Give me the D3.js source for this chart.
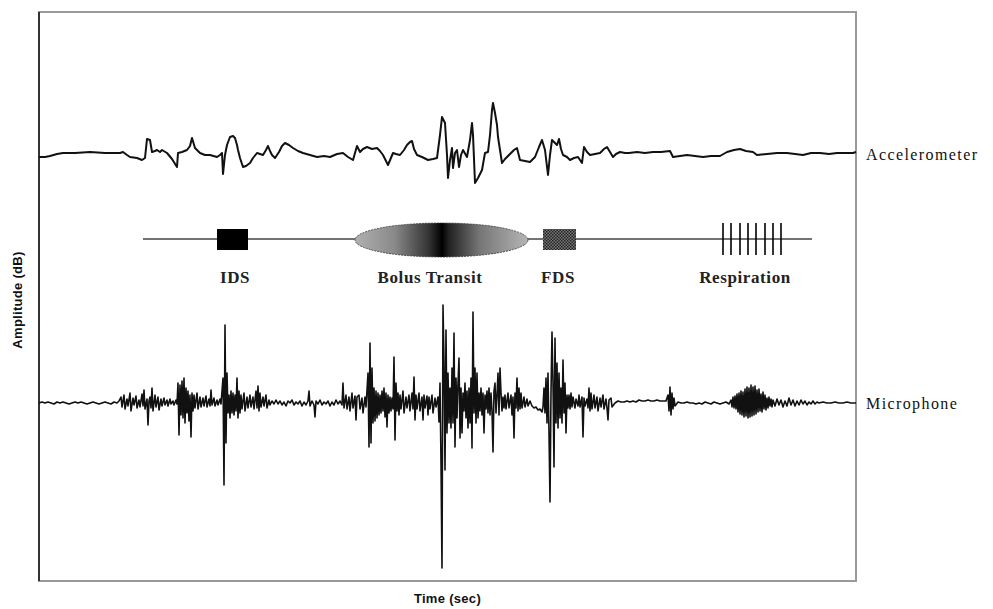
<!DOCTYPE html>
<html>
<head>
<meta charset="utf-8">
<script src="https://cdnjs.cloudflare.com/ajax/libs/d3/7.8.5/d3.min.js"></script>
<style>
  body { margin: 0; background: #fff; }
  #chart { width: 993px; height: 609px; }
</style>
</head>
<body>
<div id="chart"></div>
<script>
/*
#################################################
SECTION 1: DATA
time in ms from start, amplitude in arbitrary units
#################################################
*/
var accelSignal = [
  [0,-2],[6,-2],[11,-1],[18,1],[24,2],[36,2],[51,3],[66,2],[81,2],[84,3],[88,0],[91,-2],[98,-3],
  [103,-5],[106,-3],[108,16],[111,15],[113,3],[116,4],[118,5],[121,3],[123,5],[128,2],[133,-4],
  [138,-12],[139,2],[143,3],[148,5],[151,9],[153,17],[156,7],[158,5],[161,2],[166,0],[171,0],
  [178,-2],[181,0],[183,2],[184,-19],[186,0],[188,10],[191,18],[194,19],[196,17],[198,10],
  [199,5],[201,-3],[204,-12],[207,-11],[211,-8],[214,-3],[218,2],[221,1],[224,0],[227,5],[229,9],
  [231,4],[233,0],[236,-3],[240,3],[243,9],[246,12],[250,10],[254,7],[259,4],[264,2],[271,0],
  [278,-2],[285,-1],[291,-2],[298,1],[304,2],[309,-2],[314,-5],[318,9],[321,3],[324,6],[328,8],
  [333,6],[338,7],[341,4],[344,0],[349,-10],[354,2],[357,1],[361,0],[365,5],[368,10],[371,13],
  [373,14],[375,6],[378,0],[383,-2],[389,-5],[394,-4],[398,-3],[401,20],[403,38],[405,34],
  [406,32],[408,0],[409,-23],[411,-5],[413,7],[414,-13],[416,2],[418,5],[420,-12],[422,0],
  [424,5],[428,-2],[431,15],[433,32],[434,20],[436,-28],[439,-23],[443,-15],[446,2],[449,3],
  [451,20],[453,45],[454,52],[456,42],[458,30],[459,18],[461,5],[463,-8],[466,-4],[468,-2],
  [472,2],[475,5],[478,7],[481,-5],[486,-6],[491,-7],[496,-2],[500,8],[503,15],[506,5],[509,-20],
  [511,0],[513,15],[516,12],[518,10],[520,16],[522,6],[524,0],[528,-2],[531,-5],[535,-3],
  [539,-2],[543,-8],[545,8],[548,3],[551,0],[556,1],[561,2],[565,6],[568,8],[571,3],[574,-2],
  [577,1],[581,3],[586,2],[590,2],[598,3],[606,2],[614,3],[622,3],[631,4],[634,-2],[641,-1],
  [648,0],[656,-1],[664,-2],[672,-1],[681,-1],[688,3],[695,5],[701,6],[707,4],[714,3],[718,0],
  [728,1],[738,2],[748,2],[756,1],[764,0],[772,2],[781,2],[790,1],[798,2],[806,2],[814,2],[817,3]
];

var micSignal = [
  [0,0],[3,1],[6,0],[9,1],[12,0],[15,-1],[18,1],[21,0],[24,1],[27,0],[30,-1],[33,0],[36,1],
  [39,0],[42,1],[45,0],[48,-1],[51,0],[54,1],[57,0],[60,-1],[63,0],[66,1],[69,0],[72,-1],[75,1],
  [78,0],[80,2],
  [82,6],[83,-4],[85,8],[86,-6],[88,4],[89,-3],[91,10],[92,-8],[94,5],[95,-2],[97,7],[98,-5],
  [100,3],[101,-4],[103,9],[104,-3],[105,13],[106,-6],[108,4],[109,-22],[110,2],[111,6],[112,-5],
  [113,15],[114,-8],[116,8],[117,-4],[119,6],[120,-7],[122,4],[123,-3],[125,5],[126,-2],[128,3],
  [129,-3],[131,4],[132,-1],[134,2],[135,-2],[137,3],[138,-1],
  [139,20],[140,-32],[141,18],[142,-12],[143,22],[144,-15],[145,25],[146,-20],[147,15],[148,-10],
  [149,12],[150,-18],[151,8],[152,-34],[153,10],[154,-8],
  [155,8],[156,-5],[158,10],[159,-6],[161,6],[162,-4],[164,5],[165,-3],[167,7],[168,-4],[170,4],
  [171,-3],[172,13],[173,-2],[175,5],[176,-3],[178,3],[179,-2],[181,4],[182,-1],
  [184,25],[185,-82],[186,78],[187,-40],[188,30],[189,-10],
  [190,8],[191,-15],[192,12],[193,-10],[194,10],[195,-12],[196,8],[197,-8],[198,25],[199,-15],
  [200,12],[201,-10],[202,8],[203,-6],[205,10],[206,-8],[208,6],[209,-5],[211,8],[212,-4],[214,6],
  [215,-6],[217,12],[218,-5],[219,17],[220,-8],[221,10],[222,-4],[224,6],[225,-3],[227,8],[228,-5],
  [230,3],[231,-2],
  [233,2],[235,-1],[237,3],[239,-1],[241,2],[243,-2],[245,1],[247,-3],[249,2],[251,0],[253,3],
  [255,-2],[257,1],[259,-1],[261,2],[263,-3],[265,1],[267,-2],[269,2],[270,12],[271,-3],[273,2],
  [275,-2],[276,-14],[277,2],[279,-1],[281,3],[283,-2],[285,1],[287,-1],[289,2],[291,-3],[293,1],
  [295,-2],[297,3],[299,-1],[301,2],[303,-2],
  [304,20],[305,-5],[307,8],[308,-6],[310,6],[311,-8],[313,10],[314,-5],[316,7],[317,-17],[318,6],
  [320,8],[321,-6],[323,5],[324,-10],[326,6],[327,-4],
  [329,30],[330,-44],[331,60],[332,-40],[333,35],[334,-20],
  [335,15],[336,-18],[337,12],[338,-15],[339,10],[340,-12],[341,8],[342,-10],[343,12],[344,-8],
  [345,15],[346,-14],[347,10],[348,-24],[349,8],[350,-10],[351,6],[352,-8],[353,5],[354,-6],
  [355,46],[356,-37],[357,20],[358,-8],
  [359,10],[360,-12],[361,8],[362,-6],[364,12],[365,-10],[367,6],[368,-5],[370,8],[371,-8],
  [373,10],[374,-6],[375,26],[376,-17],[377,8],[378,-6],[380,10],[381,-8],[383,6],[384,-17],
  [385,8],[386,-5],[388,7],[389,-12],[390,6],[391,-6],[393,8],[394,-10],[396,5],[397,-4],[399,6],
  [400,-19],
  [401,20],[402,-60],[403,-165],[404,98],[405,40],[406,-67],[407,73],[408,-30],[409,30],[410,-20],
  [411,15],[412,-25],[413,35],[414,-20],[415,70],[416,-44],[417,25],[418,-15],[419,20],[420,45],
  [421,-35],[422,15],[423,-30],[424,10],
  [425,-8],[426,20],[427,-15],[428,12],[429,-25],[430,15],[431,-20],[432,25],[433,-45],[434,91],
  [435,-10],[436,35],[437,-20],[438,30],[439,-15],[440,10],[441,-8],[442,15],[443,-12],[444,10],
  [445,-30],[446,8],[447,-6],
  [448,12],[449,-10],[450,15],[451,-12],[452,10],[453,-8],[454,-49],[455,12],[456,20],[457,-10],
  [458,8],[459,30],[460,-12],[461,35],[462,10],[463,-8],[464,6],[465,-5],[466,8],[467,-6],[469,10],
  [470,-5],[472,8],[473,-12],[474,6],[475,-35],[476,10],[477,-5],[478,25],[479,-8],[480,15],
  [481,-6],[482,10],[483,-5],[485,6],[486,-4],[488,4],[489,-3],[491,2],
  [493,-3],[495,-5],[497,-4],[499,-7],[501,-6],[503,-9],[504,-4],
  [505,15],[506,-10],[507,25],[508,-20],[509,30],[510,-30],[511,-99],[512,10],[513,71],[514,20],
  [515,-64],[516,65],[517,-20],[518,40],[519,-25],[520,30],[521,-15],[522,15],[523,-20],[524,43],
  [525,-10],[526,20],[527,-30],[528,8],
  [529,-5],[530,8],[531,-6],[532,10],[533,-4],[534,6],[536,-5],[537,4],[539,-3],[540,8],[541,-4],
  [543,6],[544,-34],[545,5],[546,-3],[548,4],
  [549,-5],[550,15],[551,-8],[552,10],[553,-6],[555,8],[556,-5],[558,6],[559,-8],[561,5],[562,-4],
  [564,8],[565,-6],[567,4],[568,-5],[569,-17],[570,3],[572,5],[573,-4],
  [576,0],[579,2],[582,1],[585,1],[588,2],[591,1],[594,2],[597,1],[600,3],[603,2],[606,2],
  [609,3],[612,2],[615,2],[618,3],[621,2],[624,2],[627,2],
  [629,8],[630,-8],[631,16],[632,-12],[633,10],[634,-6],[635,5],[636,-3],
  [639,1],[642,0],[645,0],[648,1],[651,0],[654,0],[657,-1],[660,0],[663,-1],[666,1],[669,0],
  [672,-1],[675,1],[678,0],[681,-1],[684,0],[687,1],[690,-1],
  [692,3],[693,-4],[694,6],[695,-5],[696,7],[697,-6],[698,9],[699,-9],[700,10],[701,-11],[702,12],
  [703,-12],[704,11],[705,-14],[706,14],[707,-13],[708,16],[709,-15],[710,15],[711,-14],[712,18],
  [713,-13],[714,16],[715,-12],[716,17],[717,-11],[718,13],[719,-9],[720,14],[721,-8],[722,9],
  [723,-9],[724,11],[725,-6],[726,8],[727,-7],[728,5],[729,-5],[730,6],[731,-3],[732,4],[733,-4],
  [734,3],
  [736,-3],[738,4],[740,-2],[742,3],[744,-4],[746,2],[748,-3],[750,5],[752,-2],[754,3],[756,-3],
  [758,2],[760,-2],[762,3],[764,-1],[766,2],[768,-2],[770,1],[772,-1],[774,2],[776,-1],[778,1],
  [780,0],
  [784,1],[788,0],[792,0],[796,1],[800,0],[804,0],[808,1],[812,0],[817,0]
];

// swallowing events on the common time axis
var timelineSpan = [104, 773];
var idsSpan = [178, 209];
var bolusSpan = [316, 489];
var bolusPeak = 403;
var fdsSpan = [504, 537];
var respirationTicks = [684, 692, 701, 709, 717, 726, 734, 742];
var eventLabels = ["IDS", "Bolus Transit", "FDS", "Respiration"];
var eventLabelTimes = [196, 391, 519, 706];
var traceNames = ["Accelerometer", "Microphone"];

/*
#################################################
SECTION 2: DRAWING AREA AND SCALES
#################################################
*/
var width = 993, height = 609;
var frame = {left: 39, top: 12, right: 856, bottom: 581};

var svg = d3.select('#chart').append('svg')
    .attr('width', width)
    .attr('height', height);

var xScale = d3.scaleLinear()
    .domain([0, 817])
    .range([frame.left, frame.right]);
var yAccel = d3.scaleLinear()
    .domain([-50, 50])
    .range([205, 105]);
var yMic = d3.scaleLinear()
    .domain([-170, 170])
    .range([573, 233]);

// frame: grey box, darker left edge
svg.append('rect')
    .attr('x', frame.left).attr('y', frame.top)
    .attr('width', frame.right - frame.left)
    .attr('height', frame.bottom - frame.top)
    .attr('fill', 'none')
    .attr('stroke', '#9a9a9a')
    .attr('stroke-width', 2);
svg.append('line')
    .attr('x1', frame.left).attr('x2', frame.left)
    .attr('y1', frame.top).attr('y2', frame.bottom)
    .attr('stroke', '#333')
    .attr('stroke-width', 2);

/*
#################################################
SECTION 3: SIGNAL TRACES
#################################################
*/
var accelLine = d3.line()
    .x(function(d) {return xScale(d[0]);})
    .y(function(d) {return yAccel(d[1]);});
var micLine = d3.line()
    .x(function(d) {return xScale(d[0]);})
    .y(function(d) {return yMic(d[1]);});

svg.append('path')
    .datum(accelSignal)
    .attr('d', accelLine)
    .attr('fill', 'none')
    .attr('stroke', '#111')
    .attr('stroke-width', 2)
    .attr('stroke-linejoin', 'round');

svg.append('path')
    .datum(micSignal)
    .attr('d', micLine)
    .attr('fill', 'none')
    .attr('stroke', '#111')
    .attr('stroke-width', 1.6)
    .attr('stroke-linejoin', 'round');

/*
#################################################
SECTION 4: EVENT TIMELINE
#################################################
*/
var timelineY = 239;
var defs = svg.append('defs');

var grad = defs.append('linearGradient')
    .attr('id', 'bolusGrad')
    .attr('x1', '0%').attr('x2', '100%')
    .attr('y1', '0%').attr('y2', '0%');
var peakPct = (bolusPeak - bolusSpan[0]) / (bolusSpan[1] - bolusSpan[0]) * 100;
grad.append('stop').attr('offset', '0%').attr('stop-color', '#b0b0b0');
grad.append('stop').attr('offset', (peakPct * 0.45) + '%').attr('stop-color', '#8a8a8a');
grad.append('stop').attr('offset', (peakPct * 0.85) + '%').attr('stop-color', '#333');
grad.append('stop').attr('offset', peakPct + '%').attr('stop-color', '#000');
grad.append('stop').attr('offset', (peakPct + 4) + '%').attr('stop-color', '#222');
grad.append('stop').attr('offset', (peakPct + 22) + '%').attr('stop-color', '#777');
grad.append('stop').attr('offset', '100%').attr('stop-color', '#b5b5b5');

var checks = defs.append('pattern')
    .attr('id', 'checks')
    .attr('width', 3).attr('height', 3)
    .attr('patternUnits', 'userSpaceOnUse');
checks.append('rect').attr('width', 3).attr('height', 3).attr('fill', '#777');
checks.append('rect').attr('width', 1.5).attr('height', 1.5).attr('fill', '#222');
checks.append('rect').attr('x', 1.5).attr('y', 1.5).attr('width', 1.5).attr('height', 1.5).attr('fill', '#222');

svg.append('line')
    .attr('x1', xScale(timelineSpan[0])).attr('x2', xScale(timelineSpan[1]))
    .attr('y1', timelineY).attr('y2', timelineY)
    .attr('stroke', '#444')
    .attr('stroke-width', 1.5);

svg.append('rect')
    .attr('x', xScale(idsSpan[0]))
    .attr('y', timelineY - 10)
    .attr('width', xScale(idsSpan[1]) - xScale(idsSpan[0]))
    .attr('height', 21)
    .attr('fill', '#000');

svg.append('ellipse')
    .attr('cx', (xScale(bolusSpan[0]) + xScale(bolusSpan[1])) / 2)
    .attr('cy', timelineY + 1)
    .attr('rx', (xScale(bolusSpan[1]) - xScale(bolusSpan[0])) / 2)
    .attr('ry', 17)
    .attr('fill', 'url(#bolusGrad)')
    .attr('stroke', '#333')
    .attr('stroke-width', 0.8)
    .attr('stroke-dasharray', '2,1');

svg.append('rect')
    .attr('x', xScale(fdsSpan[0]))
    .attr('y', timelineY - 10)
    .attr('width', xScale(fdsSpan[1]) - xScale(fdsSpan[0]))
    .attr('height', 21)
    .attr('fill', 'url(#checks)');

svg.selectAll('.resp').data(respirationTicks)
  .enter().append('line')
    .attr('class', 'resp')
    .attr('x1', function(d) {return xScale(d);})
    .attr('x2', function(d) {return xScale(d);})
    .attr('y1', timelineY - 16)
    .attr('y2', timelineY + 16)
    .attr('stroke', '#000')
    .attr('stroke-width', 1.6);

svg.selectAll('.evlabel').data(eventLabels)
  .enter().append('text')
    .attr('class', 'evlabel')
    .attr('x', function(d, i) {return xScale(eventLabelTimes[i]);})
    .attr('y', 283)
    .attr('text-anchor', 'middle')
    .attr('font-family', '"Liberation Serif", "Times New Roman", serif')
    .attr('font-size', 17)
    .attr('font-weight', 'bold')
    .attr('letter-spacing', 0.6)
    .attr('fill', '#222')
    .text(function(d) {return d;});

/*
#################################################
SECTION 5: LABELS
#################################################
*/
svg.selectAll('.trace').data(traceNames)
  .enter().append('text')
    .attr('class', 'trace')
    .attr('x', 866)
    .attr('y', function(d, i) {return i === 0 ? yAccel(0) + 5 : yMic(0) + 6;})
    .attr('font-family', '"Liberation Serif", "Times New Roman", serif')
    .attr('font-size', 16)
    .attr('letter-spacing', 1.4)
    .attr('fill', '#111')
    .text(function(d) {return d;});

svg.append('text')
    .attr('x', (frame.left + frame.right) / 2)
    .attr('y', 603)
    .attr('text-anchor', 'middle')
    .attr('font-family', '"Liberation Sans", Arial, sans-serif')
    .attr('font-size', 13)
    .attr('font-weight', 'bold')
    .attr('letter-spacing', 0.3)
    .attr('fill', '#111')
    .text('Time (sec)');

svg.append('text')
    .attr('transform', 'translate(22,300) rotate(-90)')
    .attr('text-anchor', 'middle')
    .attr('font-family', '"Liberation Sans", Arial, sans-serif')
    .attr('font-size', 13)
    .attr('font-weight', 'bold')
    .attr('letter-spacing', 0.3)
    .attr('fill', '#111')
    .text('Amplitude (dB)');
</script>
</body>
</html>
